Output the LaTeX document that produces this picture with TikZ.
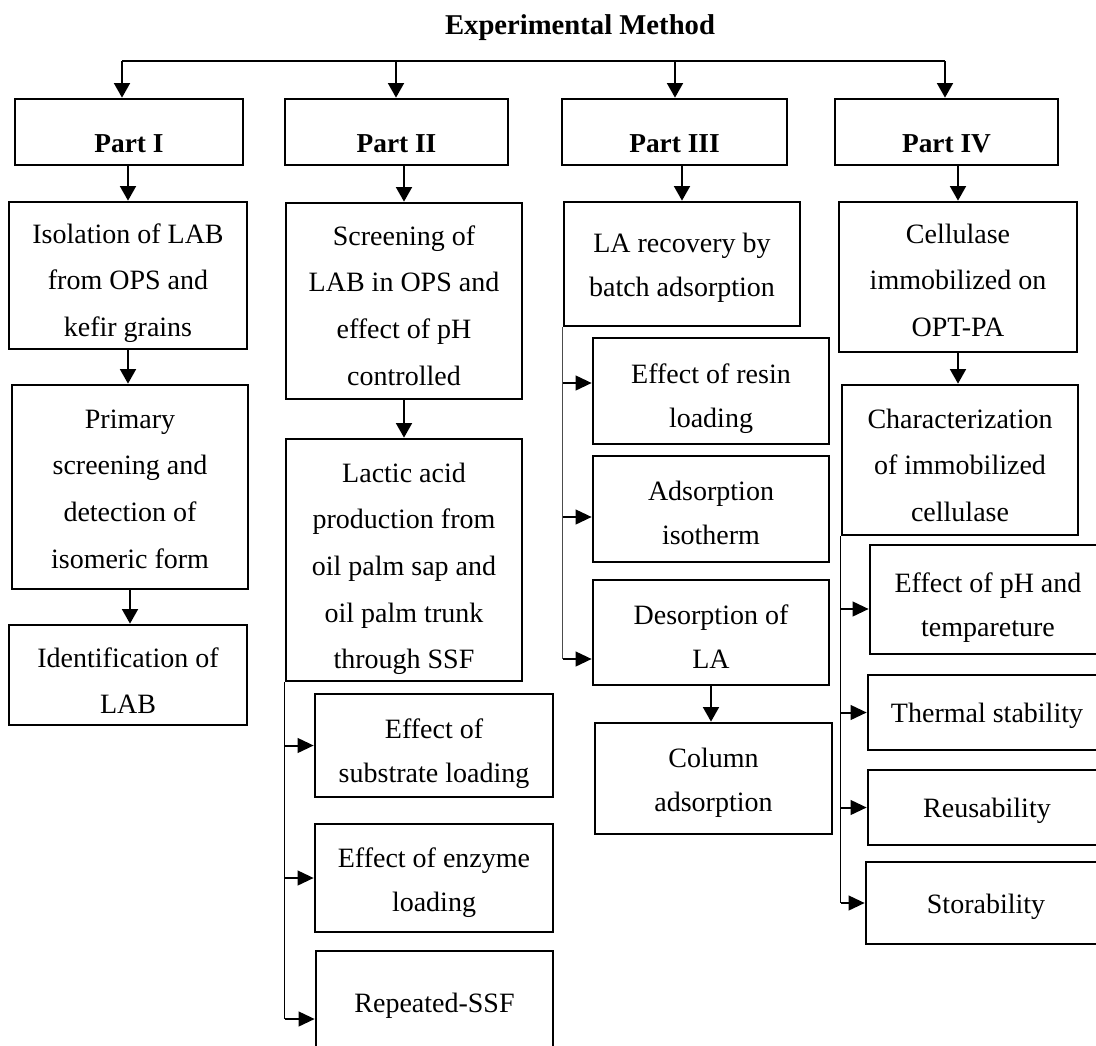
\documentclass[tikz,border=0pt]{standalone}
\usepackage{fontspec}
\setmainfont{Liberation Serif}
\usetikzlibrary{arrows.meta,fit}
% name, x1, y1, x2, y2, text style, first baseline, text
\newcommand\tbox[8]{%
  \node[box, fit={(#2,#3) (#4,#5)}] (#1) {};
  \node[#6, anchor=base] (#1-t) at ({(#2+#4)/2},#7) {\begin{tabular}[t]{@{}c@{}}#8\end{tabular}};%
}
\begin{document}
\begin{tikzpicture}[x=0.75pt,y=-0.75pt,
  box/.style={draw, line width=2pt, inner sep=0pt},
  txt/.style={inner sep=0pt, font=\fontsize{21}{35}\selectfont},
  txts/.style={inner sep=0pt, font=\fontsize{21}{33}\selectfont},
  hd/.style={inner sep=0pt, font=\fontsize{20.5}{24}\selectfont\bfseries},
  ttl/.style={inner sep=0pt, font=\fontsize{21.5}{26}\selectfont\bfseries},
  varr/.style={line width=1.5pt, -{Triangle[length=11pt,width=12pt]}},
  harr/.style={line width=1.5pt, -{Triangle[length=12pt,width=11pt]}},
  bus/.style={line width=1.1pt},
  brk/.style={line width=1.1pt},
]
\useasboundingbox (0,0) rectangle (1096,1046);

% title
\node[ttl, anchor=base] (title) at (580,34) {Experimental Method};

% part headers
\tbox{p1}{15}{99}{243}{165}{hd}{152}{Part I}
\tbox{p2}{285}{99}{508}{165}{hd}{152}{Part II}
\tbox{p3}{562}{99}{787}{165}{hd}{152}{Part III}
\tbox{p4}{835}{99}{1058}{165}{hd}{152}{Part IV}

% Part I column
\tbox{iso}{9}{202}{247}{349}{txt}{243}{Isolation of LAB\\from OPS and\\kefir grains}
\tbox{prim}{12}{385}{248}{589}{txt}{428}{Primary\\screening and\\detection of\\isomeric form}
\tbox{ident}{9}{625}{247}{725}{txt}{667}{Identification of\\LAB}

% Part II column
\tbox{scr}{286}{203}{522}{399}{txt}{245}{Screening of\\LAB in OPS and\\effect of pH\\controlled}
\tbox{lac}{286}{439}{522}{681}{txt}{482}{Lactic acid\\production from\\oil palm sap and\\oil palm trunk\\through SSF}
\tbox{sub}{315}{694}{553}{797}{txts}{738}{Effect of\\substrate loading}
\tbox{enz}{315}{824}{553}{932}{txts}{867}{Effect of enzyme\\loading}
\tbox{rep}{316}{951}{553}{1087}{txts}{1012}{Repeated-SSF}

% Part III column
\tbox{lar}{564}{202}{800}{326}{txts}{252}{LA recovery by\\batch adsorption}
\tbox{res}{593}{338}{829}{444}{txts}{383}{Effect of resin\\loading}
\tbox{iso2}{593}{456}{829}{562}{txts}{500}{Adsorption\\isotherm}
\tbox{des}{593}{580}{829}{685}{txts}{624}{Desorption of\\LA}
\tbox{col}{595}{723}{832}{834}{txts}{767}{Column\\adsorption}

% Part IV column
\tbox{cel}{839}{202}{1077}{352}{txt}{243}{Cellulase\\immobilized on\\OPT-PA}
\tbox{cha}{842}{385}{1078}{535}{txt}{428}{Characterization\\of immobilized\\cellulase}
\tbox{ph}{870}{545}{1106}{654}{txts}{592}{Effect of pH and\\tempareture}
\tbox{the}{868}{675}{1106}{750}{txts}{722}{Thermal stability}
\tbox{reu}{868}{770}{1106}{845}{txts}{817}{Reusability}
\tbox{sto}{866}{862}{1106}{944}{txts}{913}{Storability}

% bus from the title
\coordinate (b1) at (122,61);
\coordinate (b2) at (396,61);
\coordinate (b3) at (675,61);
\coordinate (b4) at (945,61);
\draw[bus] (b1) -- (b4);
\draw[varr] (b1) -- (b1 |- p1.north);
\draw[varr] (b2) -- (b2 |- p2.north);
\draw[varr] (b3) -- (b3 |- p3.north);
\draw[varr] (b4) -- (b4 |- p4.north);

% down arrows
\draw[varr] (iso.north |- p1.south) -- (iso.north);
\draw[varr] (iso.south) -- (iso.south |- prim.north);
\draw[varr] (prim.south) -- (prim.south |- ident.north);
\draw[varr] (scr.north |- p2.south) -- (scr.north);
\draw[varr] (scr.south) -- (scr.south |- lac.north);
\draw[varr] (lar.north |- p3.south) -- (lar.north);
\draw[varr] (des.south) -- (des.south |- col.north);
\draw[varr] (cel.north |- p4.south) -- (cel.north);
\draw[varr] (cel.south) -- (cel.south |- cha.north);

% Part II bracket
\draw[brk] (lac.south west) -- (lac.south west |- rep.west);
\draw[harr] (lac.south west |- sub.west) -- (sub.west);
\draw[harr] (lac.south west |- enz.west) -- (enz.west);
\draw[harr] (lac.south west |- rep.west) -- (rep.west);

% Part III bracket
\draw[brk, draw=black!70] (lar.south west) -- (lar.south west |- 0,659);
\draw[harr] (lar.south west |- 0,383) -- (res.west |- 0,383);
\draw[harr] (lar.south west |- 0,517) -- (iso2.west |- 0,517);
\draw[harr] (lar.south west |- 0,659) -- (des.west |- 0,659);

% Part IV bracket
\draw[line width=0.8pt] (cha.south west) -- (cha.south west |- sto.west);
\draw[harr] (cha.south west |- 0,609) -- (ph.west |- 0,609);
\draw[harr] (cha.south west |- the.west) -- (the.west);
\draw[harr] (cha.south west |- reu.west) -- (reu.west);
\draw[harr] (cha.south west |- sto.west) -- (sto.west);
\end{tikzpicture}
\end{document}
